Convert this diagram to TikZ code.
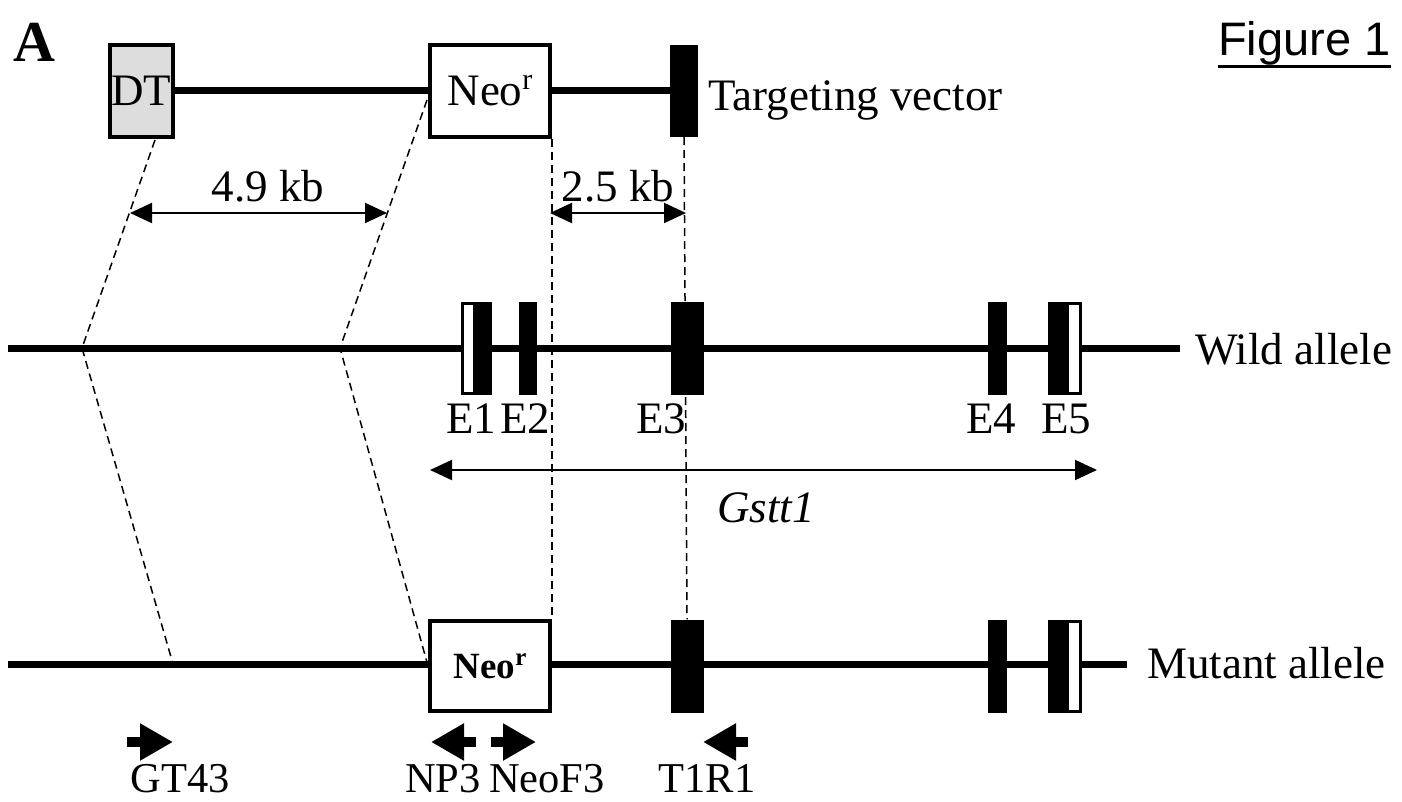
\documentclass[tikz,border=0pt]{standalone}
\usepackage{fontspec}
\setmainfont{Liberation Serif}
\newfontfamily\arialfont{Liberation Sans}
\usetikzlibrary{arrows.meta,calc}
\definecolor{dtgrey}{HTML}{DDDDDD}
\newcommand\supr[1]{\raisebox{0.36em}{\fontsize{30}{30}\selectfont #1}}
\newcommand\suprb[1]{\raisebox{0.36em}{\fontsize{25}{25}\selectfont #1}}
\tikzset{
  lbl/.style    = {font=\fontsize{45}{50}\selectfont, inner sep=0pt},
  plbl/.style   = {font=\fontsize{42.5}{48}\selectfont, inner sep=0pt, anchor=base},
  dna/.style    = {line width=7pt},
  vecbox/.style = {draw, fill=white, line width=4pt, inner sep=0pt,
                   minimum width=120pt, minimum height=92pt},
  dtbox/.style  = {vecbox, fill=dtgrey, minimum width=63pt, lbl},
  exon/.style   = {fill=black, inner sep=0pt, minimum height=93pt},
  utr/.style    = {draw, fill=white, line width=3pt, inner sep=0pt,
                   minimum height=90pt},
  guide/.style  = {line width=1.5pt, dash pattern=on 8pt off 5pt},
  span/.style   = {{Triangle[length=22pt,width=20pt]}-{Triangle[length=22pt,width=20pt]},
                   line width=2pt},
  primer/.style = {line width=10pt, -{Triangle[length=33pt,width=35pt]}},
}

\begin{document}
\begin{tikzpicture}[x=1pt, y=-1pt]
  \useasboundingbox (0,0) rectangle (1402,802);

  % panel and figure tags
  \node[font=\bfseries\fontsize{58}{60}\selectfont, inner sep=0pt, anchor=base] (panel) at (34,62) {A};
  \node[font=\arialfont\fontsize{47}{50}\selectfont, inner sep=0pt, anchor=base west] (fig) at (1218,56) {Figure 1};
  \draw[line width=3pt] (fig.base west |- 0,67) -- (fig.base east |- 0,67);

  % targeting vector
  \node[dtbox] (dt) at (141.5,91) {DT};
  \node[vecbox, lbl] (neo) at (490,91) {Neo\supr{r}};
  \node[exon, minimum width=28pt, minimum height=92pt] (tvbar) at (684,91) {};
  \draw[dna] (dt) -- (neo);
  \draw[dna] (neo) -- (tvbar);
  \node[lbl, anchor=base west] (tvlbl) at (708,111) {Targeting vector};

  % wild allele
  \coordinate (wstart) at (8,348);
  \coordinate (wend) at (1180,348);
  \draw[dna] (wstart) -- (wend);
  \node[utr, minimum width=12pt] (w1u) at (468.5,348) {};
  \node[exon, minimum width=17pt] (w1) at (483.5,348) {};
  \node[exon, minimum width=18pt] (w2) at (528,348) {};
  \node[exon, minimum width=33pt] (w3) at (687,348) {};
  \node[exon, minimum width=19pt] (w4) at (997.5,348) {};
  \node[exon, minimum width=19pt] (w5) at (1057.5,348) {};
  \node[utr, minimum width=13pt] (w5u) at (1074,348) {};
  \node[lbl, anchor=base west] (wlbl) at (1195,364) {Wild allele};

  \node[lbl, anchor=base] (e1) at (471,433) {E1};
  \node[lbl, anchor=base] (e2) at (525,433) {E2};
  \node[lbl, anchor=base] (e3) at (661,433) {E3};
  \node[lbl, anchor=base] (e4) at (991,433) {E4};
  \node[lbl, anchor=base] (e5) at (1066,433) {E5};

  \coordinate (g1) at (430,470);
  \coordinate (g2) at (1097,470);
  \draw[span] (g1) -- (g2);
  \node[lbl, anchor=base, font=\itshape\fontsize{45}{50}\selectfont] (gstt) at (766,522) {Gstt1};

  % mutant allele
  \coordinate (mstart) at (8,664);
  \coordinate (mend) at (1127,664);
  \draw[dna] (mstart) -- (mend);
  \node[vecbox, minimum height=90pt, font=\bfseries\fontsize{37}{40}\selectfont] (mneo) at (490,666) {Neo\suprb{r}};
  \node[exon, minimum width=33pt] (m3) at (687,666) {};
  \node[exon, minimum width=19pt] (m4) at (997.5,666) {};
  \node[exon, minimum width=19pt] (m5) at (1057.5,666) {};
  \node[utr, minimum width=13pt] (m5u) at (1074,666) {};
  \node[lbl, anchor=base west] (mlbl) at (1147,678) {Mutant allele};

  % homology arms
  \coordinate (x1) at (155,140);
  \coordinate (x2) at (427,100);
  \coordinate (wl) at (82,348);
  \coordinate (wr) at (340,348);
  \coordinate (ml) at (173,664);
  \draw[guide] (x1) -- (wl) -- (ml);
  \draw[guide] (x2) -- (wr) -- (mneo.west);
  \draw[guide] (neo.south east) -- (mneo.north east);
  \draw[guide] (tvbar.south) -- (m3.north);

  \coordinate (a1) at (130,213);
  \coordinate (a2) at (387,213);
  \draw[span] (a1) -- (a2);
  \node[lbl, anchor=base] (kb49) at (268,202) {4.9 kb};
  \coordinate (b1) at (550,213);
  \coordinate (b2) at (686,213);
  \draw[span] (b1) -- (b2);
  \node[lbl, anchor=base] (kb25) at (618,202) {2.5 kb};

  % primers
  \draw[primer] (127,742) -- (173,742);
  \draw[primer] (476,742) -- (431,742);
  \draw[primer] (491,742) -- (536,742);
  \draw[primer] (748,742) -- (703,742);
  \node[plbl] (gt43) at (180,792) {GT43};
  \node[plbl] (np3) at (443,792) {NP3};
  \node[plbl] (neof3) at (547,792) {NeoF3};
  \node[plbl] (t1r1) at (707,792) {T1R1};
\end{tikzpicture}
\end{document}
